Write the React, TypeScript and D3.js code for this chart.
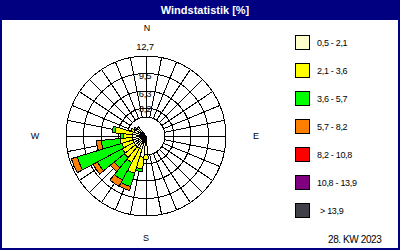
import React from "react";
import * as d3 from "d3";

const title = "Windstatistik [%]";
const footer = "28. KW 2023";
const ringTicks = [3.2, 6.3, 9.5, 12.7];
const ringTickLabels = ["3,2", "6,3", "9,5", "12,7"];
const classKeys = ["c1", "c2", "c3", "c4", "c5", "c6", "c7"];
const classLabels = ["0,5 - 2,1", "2,1 - 3,6", "3,6 - 5,7", "5,7 - 8,2", "8,2 - 10,8", "10,8 - 13,9", "> 13,9"];
const classColors = ["#FFFFCC", "#FFFF00", "#00FF00", "#FF8000", "#FF0000", "#800080", "#404048"];
const sectorCount = 32;

// percentage per sector (index 0 = N, clockwise in 11.25° steps), per speed class
const c1 = [0, 0, 0, 0, 0, 0, 0, 0, 0, 0, 0, 0, 0, 0, 0, 0, 1.5, 2.0, 0.64, 0.64, 0.6, 0.6, 0.6, 0.6, 0.5, 0.5, 0.4, 0.1, 0.2, 0, 0, 0];
const c2 = [0, 0, 0, 0, 0, 0, 0, 0, 0, 0, 0, 0, 0, 0, 0, 0, 0.8, 2.1, 4.56, 2.92, 2.6, 2.4, 2.05, 2.23, 1.78, 3.24, 0.6, 0.2, 0, 0, 0, 0];
const c3 = [0, 0, 0, 0, 0, 0, 0, 0, 0, 0, 0, 0, 0, 0, 0, 0, 0, 0.55, 2.56, 3.64, 2.37, 5.13, 8.58, 3.47, 0.55, 0.55, 0, 0.35, 0, 0, 0, 0];
const c4 = [0, 0, 0, 0, 0, 0, 0, 0, 0, 0, 0, 0, 0, 0, 0, 0, 0, 0, 0.74, 1.3, 0.92, 0.91, 1.1, 0.9, 0, 0, 0, 0, 0, 0, 0, 0];
const c5 = new Array(32).fill(0);
const c6 = new Array(32).fill(0);
const c7 = new Array(32).fill(0);

const NAVY = "#000080";

export default function App() {
  const cx = 146;
  const cy = 136;
  const outerR = 80;
  const calmR = 19;
  const r = d3.scaleLinear().domain([0, 12.7]).range([10.5, outerR]);
  const labelShift = [0, 2.5, 2, -10];

  const rows = d3.range(sectorCount).map((i) => ({
    i,
    c1: c1[i], c2: c2[i], c3: c3[i], c4: c4[i], c5: c5[i], c6: c6[i], c7: c7[i],
  }));
  const series = d3.stack<any>().keys(classKeys)(rows);
  const step = (2 * Math.PI) / sectorCount;
  const half = step / 2;
  const arc = d3.arc<any>();

  const bars: any[] = [];
  series.forEach((s, j) => {
    s.forEach((p, i) => {
      const [y0, y1] = p;
      if (y1 - y0 <= 0) return;
      const a = i * step;
      const d = arc({
        innerRadius: y0 === 0 ? 0 : r(y0),
        outerRadius: r(y1),
        startAngle: a - half,
        endAngle: a + half,
      }) as string;
      bars.push(<path key={`${j}-${i}`} d={d} fill={classColors[j]} stroke="#000" strokeWidth={1} />);
    });
  });

  const font = "'Liberation Sans', Arial, sans-serif";

  return (
    <svg width={400} height={250} style={{ position: "absolute", left: 0, top: 0 }} fontFamily={font}>
      <rect x={0} y={0} width={400} height={250} fill="#fff" />
      <rect x={0} y={0} width={400} height={20} fill={NAVY} />
      <rect x={1} y={1} width={398} height={248} fill="none" stroke={NAVY} strokeWidth={2} />
      <text x={205} y={14} fill="#fff" fontWeight="bold" fontSize={11} textAnchor="middle">{title}</text>

      <g transform={`translate(${cx},${cy})`}>
        <g shapeRendering="crispEdges">
          {ringTicks.map((t) => (
            <circle key={t} r={r(t)} fill="none" stroke="#000" strokeWidth={1} />
          ))}
          {d3.range(sectorCount).map((i) => {
            const a = i * step;
            return (
              <line key={i} x1={calmR * Math.sin(a)} y1={-calmR * Math.cos(a)} x2={outerR * Math.sin(a)} y2={-outerR * Math.cos(a)} stroke="#000" strokeWidth={1} />
            );
          })}
          <circle r={calmR} fill="#fff" stroke="#000" strokeWidth={1} />
        </g>
        {ringTicks.map((t, k) => (
          <text key={t} x={-1} y={-r(t) + labelShift[k]} fill="#000" fontSize={9.5} textAnchor="middle" dominantBaseline="central" letterSpacing={-0.3}>{ringTickLabels[k]}</text>
        ))}
        <g shapeRendering="crispEdges">{bars}</g>
        <text x={1} y={-108} fill="#000" fontSize={9} textAnchor="middle" dominantBaseline="central">N</text>
        <text x={0} y={102} fill="#000" fontSize={9} textAnchor="middle" dominantBaseline="central">S</text>
        <text x={-111} y={0} fill="#000" fontSize={9} textAnchor="middle" dominantBaseline="central">W</text>
        <text x={110} y={0} fill="#000" fontSize={9} textAnchor="middle" dominantBaseline="central">E</text>
      </g>

      {classLabels.map((lab, j) => (
        <g key={lab} transform={`translate(295,${35 + j * 28})`}>
          <rect x={0.5} y={0.5} width={14} height={14} fill={classColors[j]} stroke="#000" strokeWidth={1} shapeRendering="crispEdges" />
          <text x={j === 6 ? 25 : 22} y={7.5} fill="#000" fontSize={9} dominantBaseline="central" letterSpacing={-0.3}>{lab}</text>
        </g>
      ))}
      <text x={328} y={243} fill="#000" fontSize={10} letterSpacing={-0.4}>{footer}</text>
    </svg>
  );
}
